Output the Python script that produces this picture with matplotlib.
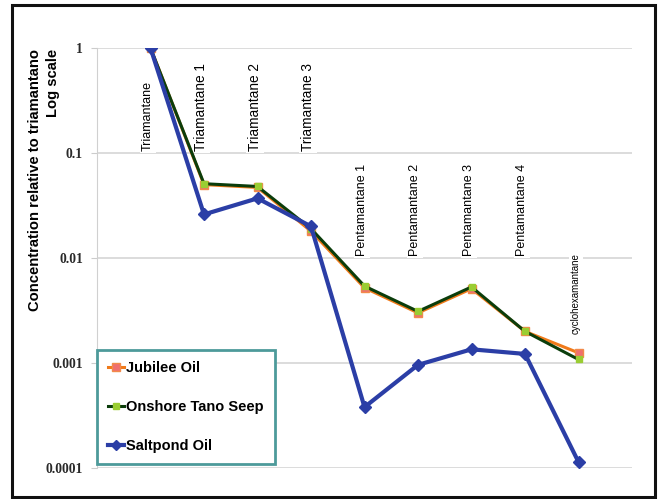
import numpy as np
import matplotlib.pyplot as plt
from matplotlib.patches import Rectangle
from matplotlib.lines import Line2D

compounds = ["Triamantane", "Triamantane 1", "Triamantane 2", "Triamantane 3",
             "Pentamantane 1", "Pentamantane 2", "Pentamantane 3", "Pentamantane 4",
             "cyclohexamantane"]
jubilee = [1.0, 0.050, 0.047, 0.018, 0.0052, 0.0030, 0.0051, 0.0020, 0.00125]
onshore = [1.0, 0.051, 0.048, 0.019, 0.0054, 0.0031, 0.0053, 0.0020, 0.00108]
saltpond = [1.0, 0.026, 0.037, 0.020, 0.00038, 0.00096, 0.00135, 0.00122, 0.000114]
# where each rotated name sits (bottom of text, in data units)
label_base = [0.105, 0.105, 0.105, 0.105, 0.0105, 0.0105, 0.0105, 0.0105, 0.0019]
label_size = [9, 9.8, 9.8, 9.8, 9, 9, 9, 9, 7]

plt.rcParams['font.family'] = ['Liberation Sans', 'DejaVu Sans']

fig = plt.figure(figsize=(6.59, 4.99), dpi=100)
fig.patches.append(Rectangle((12 / 659, 2 / 499), 643 / 659, 492 / 499,
                             transform=fig.transFigure, fill=False,
                             edgecolor='#111111', linewidth=2.2))

ax = fig.add_axes([97 / 659, 1 - 468 / 499, 535 / 659, 420 / 499])
x = np.arange(len(compounds))

ax.set_yscale('log')
ax.set_ylim(1e-4, 1)
ax.set_xlim(-1, 9)
ax.set_yticks([1e-4, 1e-3, 1e-2, 1e-1, 1])
ax.set_yticklabels(["0.0001", "0.001", "0.01", "0.1", "1"],
                   fontsize=9.8, fontweight='bold', color='#2a2a2a',
                   family='Liberation Serif')
ax.minorticks_off()
ax.tick_params(axis='y', length=4, color='#cccccc', pad=6)
ax.set_xticks([])
ax.grid(axis='y', color='#d6d6d6', linewidth=1.2)
ax.set_axisbelow(True)
for s in ['top', 'right', 'bottom']:
    ax.spines[s].set_visible(False)
ax.spines['left'].set_color('#d0d0d0')

ax.plot(x, jubilee, color='#f07a1a', linewidth=2.2, marker='s', markersize=6,
        markerfacecolor='#ef6f6f', markeredgecolor='#f28a4a', zorder=3)
ax.plot(x, onshore, color='#0b3d0b', linewidth=2.2, marker='s', markersize=5,
        markerfacecolor='#9acd32', markeredgecolor='#9acd32', zorder=4)
ax.plot(x, saltpond, color='#2b3ea6', linewidth=3, marker='D', markersize=6,
        markerfacecolor='#2b3ea6', markeredgecolor='#2b3ea6', zorder=5)

for i, name in enumerate(compounds):
    ax.text(x[i] - 0.05, label_base[i], name, rotation=90, ha='center',
            va='bottom', fontsize=label_size[i], color='black', zorder=2,
            bbox=dict(facecolor='white', edgecolor='none', pad=1.5))

ax.set_ylabel("Concentration relative to triamantano\nLog scale", fontsize=10.6,
              fontweight='bold', multialignment='right', linespacing=1.3)
ax.yaxis.set_label_coords(-0.07, 0.686)

handles = [
    Line2D([], [], color='#f07a1a', linewidth=2.2, marker='s', markersize=6,
           markerfacecolor='#ef6f6f', markeredgecolor='#f28a4a'),
    Line2D([], [], color='#0b3d0b', linewidth=2.2, marker='s', markersize=5,
           markerfacecolor='#9acd32', markeredgecolor='#9acd32'),
    Line2D([], [], color='#2b3ea6', linewidth=3, marker='D', markersize=5,
           markerfacecolor='#2b3ea6', markeredgecolor='#2b3ea6'),
]
leg = ax.legend(handles, ["Jubilee Oil", "Onshore Tano Seep", "Saltpond Oil"],
                loc='lower left', bbox_to_anchor=(0.0, 0.01), borderaxespad=0,
                handlelength=1.1, handletextpad=0.15, labelspacing=1.7,
                borderpad=0.75, fancybox=False, framealpha=1,
                prop=dict(size=10.5, weight='bold'))
leg.get_frame().set_edgecolor('#4d9a9a')
leg.get_frame().set_linewidth(2)
leg.set_zorder(6)

fig.savefig("out.png", dpi=100)
